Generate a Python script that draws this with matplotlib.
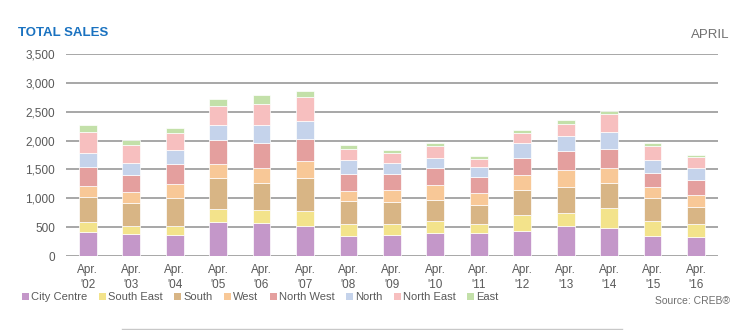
import matplotlib.pyplot as plt
import numpy as np
from matplotlib.lines import Line2D
from matplotlib.patches import Patch

plt.rcParams['font.family'] = ['Liberation Sans', 'DejaVu Sans']

years = ["'02", "'03", "'04", "'05", "'06", "'07", "'08", "'09",
         "'10", "'11", "'12", "'13", "'14", "'15", "'16"]
labels = ["Apr.\n" + y for y in years]

# sales by district, April of each year
city_centre = [418, 383, 365, 586, 574, 516, 348, 371, 406, 394, 435, 516, 493, 342, 331]
south_east = [168, 139, 157, 226, 221, 267, 215, 180, 197, 163, 278, 238, 336, 267, 232]
south = [429, 400, 481, 534, 469, 574, 382, 383, 366, 325, 424, 447, 441, 394, 295]
west = [197, 192, 238, 249, 267, 284, 186, 214, 255, 214, 267, 290, 261, 186, 192]
north_west = [331, 290, 348, 418, 435, 389, 284, 279, 301, 279, 290, 330, 325, 249, 261]
north = [243, 203, 255, 261, 296, 307, 255, 191, 180, 162, 266, 261, 296, 227, 220]
north_east = [360, 319, 285, 330, 371, 424, 186, 168, 209, 151, 174, 209, 301, 237, 180]
east = [116, 92, 92, 110, 157, 104, 64, 53, 46, 40, 47, 64, 53, 58, 46]

series = [
    ("City Centre", city_centre, "#c497c9"),
    ("South East", south_east, "#f3e38b"),
    ("South", south, "#d8b585"),
    ("West", west, "#f8c897"),
    ("North West", north_west, "#e49f9e"),
    ("North", north, "#c5d3eb"),
    ("North East", north_east, "#f7bfbf"),
    ("East", east, "#c3e0a9"),
]

fig = plt.figure(figsize=(7.5, 3.3), dpi=100)
ax = fig.add_axes([0.088, 0.2242, 0.869, 0.612])

x = np.arange(len(years))
bottom = np.zeros(len(years))
for name, vals, col in series:
    ax.bar(x, vals, width=0.41, bottom=bottom, color=col, edgecolor="#ffffff",
           linewidth=0.5, label=name, zorder=3)
    bottom += np.array(vals)

ax.set_xlim(-0.5, len(years) - 0.5)
ax.set_ylim(0, 3500)
ax.set_yticks(np.arange(0, 3501, 500))
ax.set_yticklabels(["{:,}".format(v) for v in range(0, 3501, 500)])
ax.set_xticks(x)
ax.set_xticklabels(labels, linespacing=1.25)
ax.tick_params(length=0, labelsize=8.5, colors="#595959")
ax.tick_params(axis="y", pad=8)
ax.tick_params(axis="x", pad=6)
ax.grid(axis="y", color="#a0a0a0", linewidth=1.3, zorder=0)
ax.set_axisbelow(True)
for s in ax.spines.values():
    s.set_visible(False)

fig.text(0.024, 0.9, "TOTAL SALES", color="#1a72c0", fontsize=9.5, fontweight="bold",
         va="center", ha="left")
fig.text(0.973, 0.893, "APRIL", color="#6f6f6f", fontsize=9.5, va="center", ha="right")
fig.text(0.973, 0.088, "Source: CREB\u00ae", color="#6f6f6f", fontsize=7.5,
         va="center", ha="right")

handles = [Patch(facecolor=col, edgecolor="none") for _, _, col in series]
fig.legend(handles, [s[0] for s in series], ncol=8, loc="center left",
           bbox_to_anchor=(0.024, 0.1), frameon=False, fontsize=8,
           handlelength=0.6, handleheight=0.6, handletextpad=0.2,
           columnspacing=1.05, labelcolor="#595959", borderaxespad=0)

fig.add_artist(Line2D([0.163, 0.829], [0.003, 0.003], color="#c8c8c8",
                      linewidth=1, transform=fig.transFigure))

fig.savefig("out.png", dpi=100, facecolor="white")
